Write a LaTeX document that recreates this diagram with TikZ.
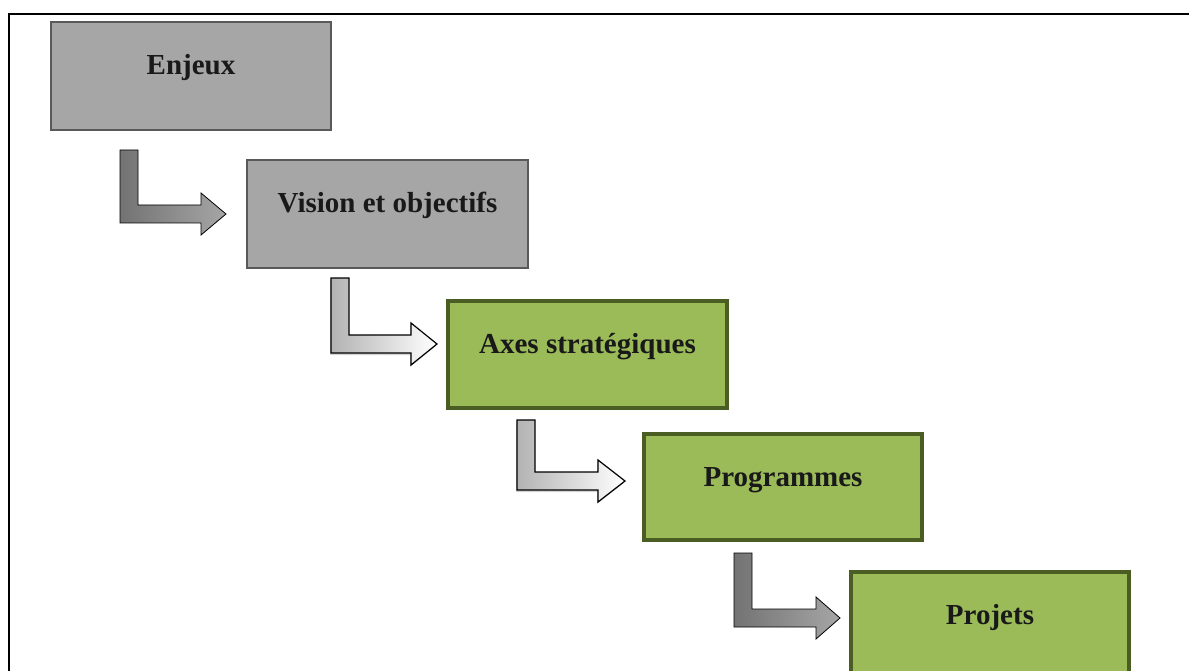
\documentclass[tikz,border=0pt]{standalone}
\usepackage{fontspec}
\setmainfont{Liberation Serif}
\usetikzlibrary{shadows,calc}
\definecolor{boxgray}{HTML}{A6A6A6}
\definecolor{edgegray}{HTML}{595959}
\definecolor{boxgreen}{HTML}{9BBB59}
\definecolor{edgegreen}{HTML}{4A5D23}
\tikzset{
  graybox/.style={draw=edgegray, fill=boxgray, line width=2pt, inner sep=0pt},
  greenbox/.style={draw=edgegreen, fill=boxgreen, line width=4pt, inner sep=0pt},
  lbl/.style={font=\fontsize{29}{34}\selectfont\bfseries, text=black!90, anchor=base, inner sep=0pt},
  darkarrow/.style={draw=black, line width=0.8pt, left color=black!55, right color=black!35},
  lightarrow/.style={draw=black, line width=1.2pt, left color=black!30, right color=white,
    drop shadow={shadow xshift=-1pt, shadow yshift=-2pt, opacity=0.35}},
}
% elbow arrow: #2 = left of vertical bar, #3 = top, #4 = bottom of horizontal bar,
% #5 = x of head base, #6 = x of tip
\newcommand\elbowarrow[6]{%
  \path[#1] (#2,#3) -- ++(18,0) -- (#2+18,#4-18) -- (#5,#4-18) -- (#5,#4-30)
    -- (#6,#4-9) -- (#5,#4+12) -- (#5,#4) -- (#2,#4) -- cycle;}
\begin{document}
\begin{tikzpicture}[x=1pt,y=-1pt]
\useasboundingbox (0,0) rectangle (1189,671);
% outer frame
\draw[line width=2pt] (9,680) -- (9,14) -- (1195,14);

% boxes
\node[graybox, minimum width=280pt, minimum height=108pt] (b1) at (191,76) {};
\node[graybox, minimum width=281pt, minimum height=108pt] (b2) at (387.5,214) {};
\node[greenbox, minimum width=279pt, minimum height=107pt] (b3) at (587.5,354.5) {};
\node[greenbox, minimum width=278pt, minimum height=106pt] (b4) at (783,487) {};
\node[greenbox, minimum width=278pt, minimum height=106pt] (b5) at (990,625) {};

% labels
\node[lbl] (t1) at ([yshift=-54pt]b1.north) {Enjeux};
\node[lbl] (t2) at ([yshift=-54pt]b2.north) {Vision et objectifs};
\node[lbl] (t3) at ([yshift=-54pt]b3.north) {Axes stratégiques};
\node[lbl] (t4) at ([yshift=-54pt]b4.north) {Programmes};
\node[lbl] (t5) at ([yshift=-54pt]b5.north) {Projets};

% elbow arrows between the boxes
\elbowarrow{darkarrow}{120}{150}{223}{201}{226}
\elbowarrow{lightarrow}{331}{278}{353}{411}{437}
\elbowarrow{lightarrow}{517}{420}{490}{598}{625}
\elbowarrow{darkarrow}{734}{553}{627}{816}{840}
\end{tikzpicture}
\end{document}
